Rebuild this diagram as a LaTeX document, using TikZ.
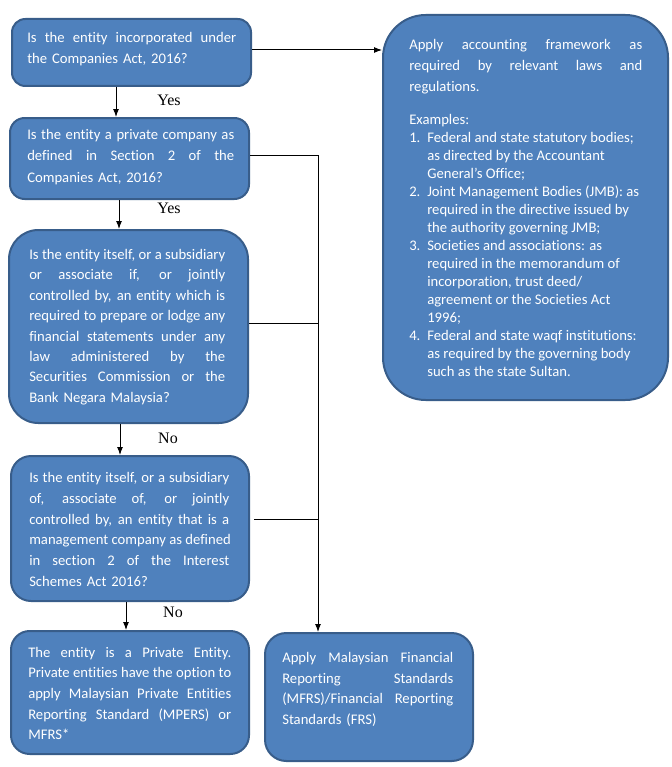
\documentclass[tikz,border=0pt]{standalone}
\usepackage{fontspec}
\setmainfont{Carlito}[Ligatures={NoCommon}]
\newfontfamily\tnr{Liberation Serif}
\usetikzlibrary{arrows.meta}
\definecolor{boxfill}{HTML}{4F81BD}
\definecolor{boxline}{HTML}{385D8A}
\newcommand{\jline}[1]{\makebox[\hsize][s]{\spaceskip=\fontdimen2\font plus 1fil\relax\xspaceskip=\spaceskip #1}}
\newcommand{\ind}{\hspace*{13.5pt}}
\newcommand{\num}[1]{\makebox[13.5pt][l]{#1}}
\begin{document}
\begin{tikzpicture}[x=0.75pt,y=-0.75pt,
  box/.style={draw=boxline, fill=boxfill, line width=1.5pt, inner sep=0pt},
  txt/.style={anchor=north west, inner sep=0pt, text=white, align=left},
  lbl/.style={inner sep=0pt, font=\tnr\fontsize{12}{14}\selectfont},
  arr/.style={line width=0.75pt, -{Latex[length=6pt,width=4.5pt]}},
  ln/.style={line width=0.75pt}]
\useasboundingbox (0,0) rectangle (671,767);

% boxes
\node[box, rounded corners=10pt, minimum width=239*0.75pt, minimum height=67*0.75pt] (q1) at (131.5,52.5) {};
\node[box, rounded corners=11pt, minimum width=239*0.75pt, minimum height=81*0.75pt] (q2) at (129.5,158.5) {};
\node[box, rounded corners=22pt, minimum width=239*0.75pt, minimum height=193*0.75pt] (q3) at (128.5,326.5) {};
\node[box, rounded corners=15pt, minimum width=238*0.75pt, minimum height=145*0.75pt] (q4) at (130,528.5) {};
\node[box, rounded corners=14pt, minimum width=238*0.75pt, minimum height=123*0.75pt] (q5) at (130,692.5) {};
\node[box, rounded corners=16pt, minimum width=208*0.75pt, minimum height=128*0.75pt] (r2) at (369,697) {};
\node[box, rounded corners=32pt, minimum width=285*0.75pt, minimum height=385*0.75pt] (r1) at (525.5,207.5) {};

% texts
\node[txt, text width=209*0.75pt, font=\fontsize{11}{16}\selectfont] (t1) at (27,32) {%
\jline{Is the entity incorporated under}\\
the Companies Act, 2016?};
\node[txt, text width=207*0.75pt, font=\fontsize{11}{16.1}\selectfont] (t2) at (27,129) {%
\jline{Is the entity a private company as}\\
\jline{defined in Section 2 of the}\\
Companies Act, 2016?};
\node[txt, text width=196*0.75pt, font=\fontsize{11}{15.3}\selectfont] (t3) at (29,249) {%
\jline{Is the entity itself, or a subsidiary}\\
\jline{or associate if, or jointly}\\
\jline{controlled by, an entity which is}\\
\jline{required to prepare or lodge any}\\
\jline{financial statements under any}\\
\jline{law administered by the}\\
\jline{Securities Commission or the}\\
Bank Negara Malaysia?};
\node[txt, text width=200*0.75pt, font=\fontsize{11}{15.6}\selectfont] (t4) at (29,472) {%
\jline{Is the entity itself, or a subsidiary}\\
\jline{of, associate of, or jointly}\\
\jline{controlled by, an entity that is a}\\
\jline{management company as defined}\\
\jline{in section 2 of the Interest}\\
Schemes Act 2016?};
\node[txt, text width=203*0.75pt, font=\fontsize{11}{15.4}\selectfont] (t5) at (28,647) {%
\jline{The entity is a Private Entity.}\\
\jline{Private entities have the option to}\\
\jline{apply Malaysian Private Entities}\\
\jline{Reporting Standard (MPERS) or}\\
MFRS*};
\node[txt, text width=171*0.75pt, font=\fontsize{11}{15.5}\selectfont] (t6) at (282,652) {%
\jline{Apply Malaysian Financial}\\
\jline{Reporting Standards}\\
\jline{(MFRS)/Financial Reporting}\\
Standards (FRS)};
\node[txt, text width=233*0.75pt, font=\fontsize{11}{15.75}\selectfont] (t7) at (409,39) {%
\jline{Apply accounting framework as}\\
\jline{required by relevant laws and}\\
regulations.};
\node[txt, font=\fontsize{11}{13.5}\selectfont] (t8) at (409,114) {%
Examples:\\
\num{1.}Federal and state statutory bodies;\\
\ind as directed by the Accountant\\
\ind General’s Office;\\
\num{2.}Joint Management Bodies (JMB): as\\
\ind required in the directive issued by\\
\ind the authority governing JMB;\\
\num{3.}Societies and associations: as\\
\ind required in the memorandum of\\
\ind incorporation, trust deed/\\
\ind agreement or the Societies Act\\
\ind 1996;\\
\num{4.}Federal and state waqf institutions:\\
\ind as required by the governing body\\
\ind such as the state Sultan.};

% labels
\node[lbl] (y1) at (169,100) {Yes};
\node[lbl] (y2) at (169,208) {Yes};
\node[lbl] (n1) at (168,438) {No};
\node[lbl] (n2) at (173,612) {No};

% connector coordinates
\coordinate (c1) at (116,0);
\coordinate (c2) at (119,0);
\coordinate (c3) at (120,0);
\coordinate (c4) at (126,0);
\coordinate (tr) at (318,0);
\coordinate (ya) at (0,50);

\draw[arr] (q1.east |- ya) -- (r1.west |- ya);
\draw[arr] (c1 |- q1.south) -- (c1 |- q2.north);
\draw[arr] (c2 |- q2.south) -- (c2 |- q3.north);
\draw[arr] (c3 |- q3.south) -- (c3 |- q4.north);
\draw[arr] (c4 |- q4.south) -- (c4 |- q5.north);
\draw[arr] ([yshift=2.5pt]q2.east) -- ([yshift=2.5pt]q2.east -| tr) -- (tr |- r2.north);
\draw[ln] ([yshift=2pt]q3.east) -- ([yshift=2pt]q3.east -| tr);
\draw[ln] ([yshift=7pt,xshift=3pt]q4.east) -- ([yshift=7pt]q4.east -| tr);
\end{tikzpicture}
\end{document}
